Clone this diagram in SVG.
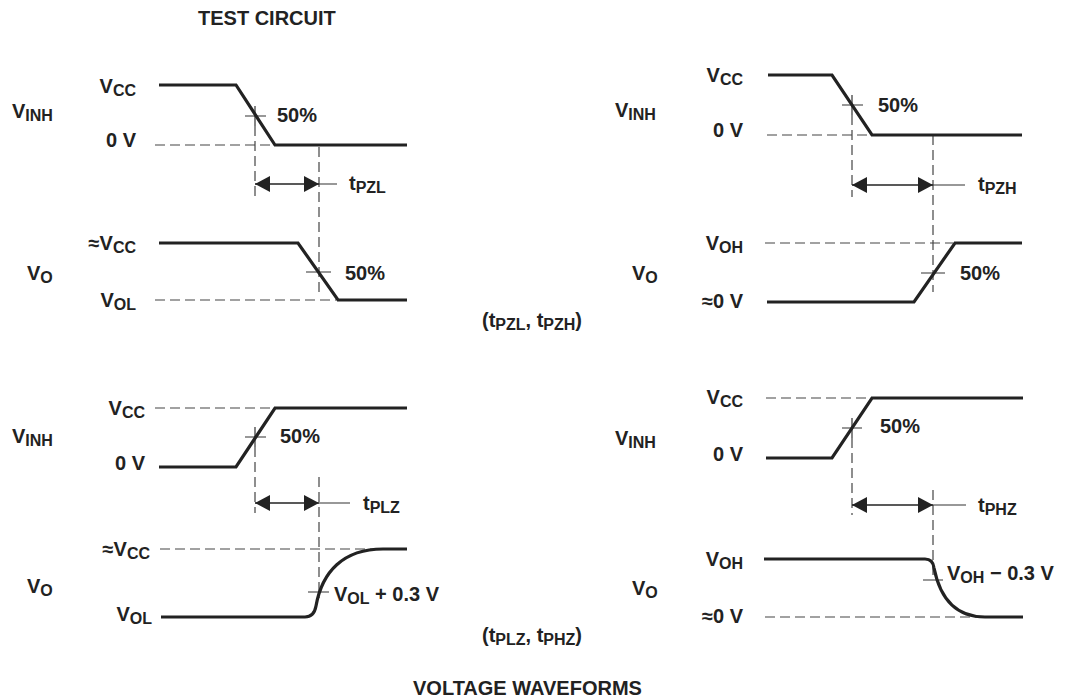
<svg xmlns="http://www.w3.org/2000/svg" width="1069" height="700" viewBox="0 0 1069 700">
<style>
text{font-family:"Liberation Sans",Arial,sans-serif;font-weight:bold;font-size:20px;fill:#222}
.s{font-size:16px}
.e{text-anchor:end}
.w{fill:none;stroke:#222;stroke-width:3.2;stroke-linejoin:miter}
.d{fill:none;stroke:#444;stroke-width:1.2;stroke-dasharray:10 5}
.t{fill:none;stroke:#333;stroke-width:1.2}
.dim{fill:none;stroke:#222;stroke-width:1.5;marker-start:url(#ar);marker-end:url(#ar)}
</style>
<defs>
<marker id="ar" markerUnits="userSpaceOnUse" markerWidth="15" markerHeight="16" refX="15" refY="8" orient="auto-start-reverse" viewBox="0 0 15 16">
<path d="M0,0 L15,8 L0,16 z" fill="#222"/>
</marker>
</defs>
<rect width="1069" height="700" fill="#fff"/>
<text x="198" y="25">TEST CIRCUIT</text>
<text x="413" y="695">VOLTAGE WAVEFORMS</text>
<text x="482" y="327">(t<tspan class="s" dy="3">PZL</tspan><tspan dy="-3">, t</tspan><tspan class="s" dy="3">PZH</tspan><tspan dy="-3">)</tspan></text>
<text x="482" y="642">(t<tspan class="s" dy="3">PLZ</tspan><tspan dy="-3">, t</tspan><tspan class="s" dy="3">PHZ</tspan><tspan dy="-3">)</tspan></text>

<g id="panel-pzl">
<text x="12" y="118">V<tspan class="s" dy="3">INH</tspan></text>
<text class="e" x="136" y="93">V<tspan class="s" dy="3">CC</tspan></text>
<text class="e" x="136" y="147">0 V</text>
<text class="e" x="136" y="250">≈V<tspan class="s" dy="3">CC</tspan></text>
<text x="27" y="280">V<tspan class="s" dy="3">O</tspan></text>
<text class="e" x="136" y="307">V<tspan class="s" dy="3">OL</tspan></text>
<text x="277" y="122">50%</text>
<text x="345" y="280">50%</text>
<text x="349" y="190">t<tspan class="s" dy="3">PZL</tspan></text>
<path class="d" d="M155,145 H272 M255,126 V197 M319,147 V296 M155,300 H336"/>
<path class="t" d="M245,116 H266 M255,106 V126 M306,272 H331 M319,184 H337"/>
<line class="dim" x1="255" y1="184" x2="319" y2="184"/>
<polyline class="w" points="159,85 236,85 275,145 407,145"/>
<polyline class="w" points="159,243 298,243 338,300 407,300"/>
</g>

<g id="panel-pzh">
<text x="615" y="117">V<tspan class="s" dy="3">INH</tspan></text>
<text class="e" x="743" y="82">V<tspan class="s" dy="3">CC</tspan></text>
<text class="e" x="743" y="137">0 V</text>
<text class="e" x="743" y="250">V<tspan class="s" dy="3">OH</tspan></text>
<text x="632" y="280">V<tspan class="s" dy="3">O</tspan></text>
<text class="e" x="743" y="308">≈0 V</text>
<text x="878" y="112">50%</text>
<text x="960" y="280">50%</text>
<text x="978" y="191">t<tspan class="s" dy="3">PZH</tspan></text>
<path class="d" d="M767,135 H870 M852,115 V197 M933,135 V292 M765,243 H953"/>
<path class="t" d="M842,105 H863 M852,95 V115 M921,273 H945 M933,185 H965"/>
<line class="dim" x1="852" y1="185" x2="933" y2="185"/>
<polyline class="w" points="768,75 832,75 872,135 1022,135"/>
<polyline class="w" points="767,302 914,302 955,243 1022,243"/>
</g>

<g id="panel-plz">
<text x="12" y="443">V<tspan class="s" dy="3">INH</tspan></text>
<text class="e" x="145" y="415">V<tspan class="s" dy="3">CC</tspan></text>
<text class="e" x="145" y="470">0 V</text>
<text class="e" x="150" y="556">≈V<tspan class="s" dy="3">CC</tspan></text>
<text x="27" y="593">V<tspan class="s" dy="3">O</tspan></text>
<text class="e" x="152" y="621">V<tspan class="s" dy="3">OL</tspan></text>
<text x="280" y="443">50%</text>
<text x="334" y="601">V<tspan class="s" dy="3">OL</tspan><tspan dy="-3"> + 0.3 V</tspan></text>
<text x="363" y="510">t<tspan class="s" dy="3">PLZ</tspan></text>
<path class="d" d="M155,408 H273 M255,447 V513 M319,477 V598 M160,549 H380"/>
<path class="t" d="M245,437 H266 M255,427 V447 M308,592 H329 M319,503 H350"/>
<line class="dim" x1="255" y1="503" x2="319" y2="503"/>
<polyline class="w" points="159,467 236,467 275,408 407,408"/>
<path class="w" d="M161,617 L305,617 Q314,617 316,606 C322,572 343,549 383,549 L407,549"/>
</g>

<g id="panel-phz">
<text x="615" y="445">V<tspan class="s" dy="3">INH</tspan></text>
<text class="e" x="743" y="404">V<tspan class="s" dy="3">CC</tspan></text>
<text class="e" x="743" y="461">0 V</text>
<text class="e" x="743" y="566">V<tspan class="s" dy="3">OH</tspan></text>
<text x="632" y="595">V<tspan class="s" dy="3">O</tspan></text>
<text class="e" x="743" y="623">≈0 V</text>
<text x="880" y="433">50%</text>
<text x="947" y="580">V<tspan class="s" dy="3">OH</tspan><tspan dy="-3"> − 0.3 V</tspan></text>
<text x="978" y="512">t<tspan class="s" dy="3">PHZ</tspan></text>
<path class="d" d="M766,398 H870 M852,438 V515 M933,490 V580 M765,617 H980"/>
<path class="t" d="M842,428 H862 M852,418 V438 M923,580 H943 M933,505 H966"/>
<line class="dim" x1="852" y1="505" x2="933" y2="505"/>
<polyline class="w" points="766,458 832,458 872,398 1023,398"/>
<path class="w" d="M764,559 L925,559 Q933,559 934,568 C940,598 955,617 985,617 L1023,617"/>
</g>
</svg>
